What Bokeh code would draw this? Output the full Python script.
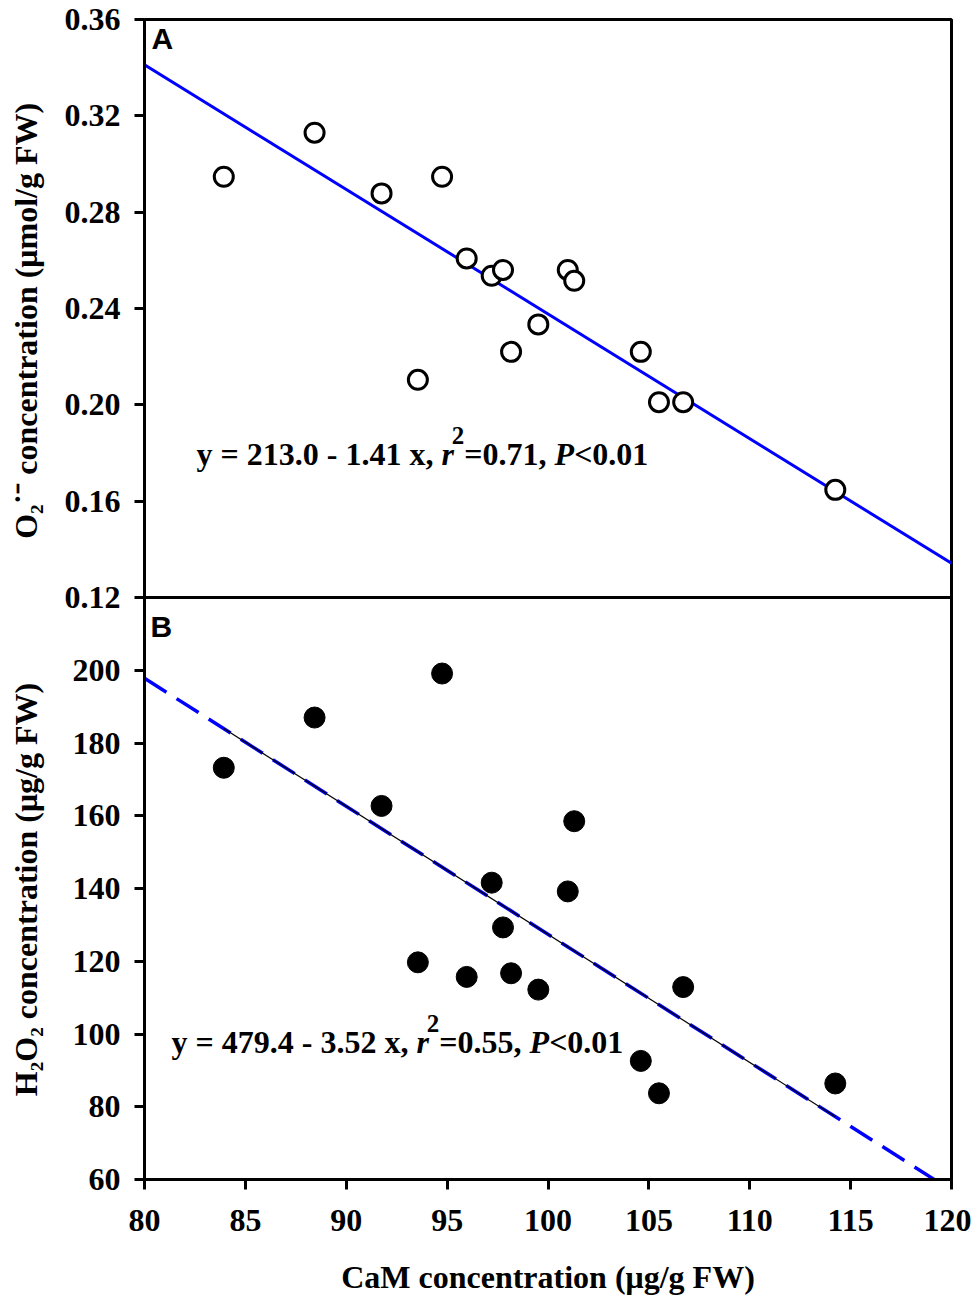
import math
from bokeh.plotting import figure
from bokeh.models import Range1d, FixedTicker, CustomJSTickFormatter, Span, Label
from bokeh.embed import file_html
from bokeh.resources import INLINE

# ---------------- data ----------------
cam = [83.93, 88.43, 91.75, 93.55, 94.75, 95.97, 97.21, 97.77,
       98.17, 99.52, 100.98, 101.30, 104.60, 105.50, 106.70, 114.24]
o2 = [0.2947, 0.3130, 0.2878, 0.2104, 0.2947, 0.2608, 0.2536, 0.2560,
      0.2220, 0.2334, 0.2560, 0.2515, 0.2220, 0.2011, 0.2011, 0.1647]
h2o2 = [173.2, 187.0, 162.7, 119.7, 199.1, 115.7, 141.6, 129.3,
        116.7, 112.2, 139.2, 158.5, 92.6, 83.7, 112.9, 86.4]

x_ticks = [80, 85, 90, 95, 100, 105, 110, 115, 120]
o2_ticks = [0.12, 0.16, 0.20, 0.24, 0.28, 0.32, 0.36]
h2o2_ticks = [60, 80, 100, 120, 140, 160, 180, 200]
h2o2_top = 220

o2_fit = (0.7552, -0.005175)     # intercept, slope of drawn line (panel A)
h2o2_fit = (479.4, -3.52)        # intercept, slope (panel B)

title_x = "CaM concentration (μg/g FW)"
title_a = "O₂˙⁻ concentration (μmol/g FW)"
title_b = "H₂O₂ concentration (μg/g FW)"

eq_a = [("y = 213.0 - 1.41 x, ", "bold", 0), ("r", "bold italic", 0), ("2", "bold", 1),
        ("=0.71, ", "bold", 0), ("P", "bold italic", 0), ("<0.01", "bold", 0)]
eq_b = [("y = 479.4 - 3.52 x, ", "bold", 0), ("r", "bold italic", 0), ("2", "bold", 1),
        ("=0.55, ", "bold", 0), ("P", "bold italic", 0), ("<0.01", "bold", 0)]

# ---------------- layout ----------------
H_TOP = 578
H_BOT = 582
FW = 807
ML, MT = 144, 19
PAGE_OFF = 1
TXT_SHIFT = 10   # rendered baseline sits this much lower than requested

x0, x1 = x_ticks[0], x_ticks[-1]
y0 = h2o2_ticks[0]
y1 = h2o2_top + (h2o2_top - y0) * H_TOP / H_BOT
t1 = o2_ticks[-1]
ts = o2_ticks[0] - (t1 - o2_ticks[0]) * H_BOT / H_TOP

def top_to_primary(t):
    return y0 + (t - ts) / (t1 - ts) * (y1 - y0)

def px_to_x(px):   # page pixel -> data x
    return x0 + (px - (PAGE_OFF + ML)) * (x1 - x0) / FW

def px_to_top(py):
    return t1 - (py - (PAGE_OFF + MT)) * (t1 - ts) / (H_TOP + H_BOT)

def px_to_bot(py):
    return y1 - (py - (PAGE_OFF + MT)) * (y1 - y0) / (H_TOP + H_BOT)

SERIF = "Liberation Serif"
SANS = "Liberation Sans"
FS = 32

p = figure(frame_width=FW, frame_height=H_TOP + H_BOT,
           x_range=Range1d(x0, x1), y_range=Range1d(y0, y1),
           output_backend="svg", toolbar_location=None,
           min_border_left=ML, min_border_top=MT, min_border_right=20,
           min_border_bottom=100)
p.extra_y_ranges = {"top": Range1d(ts, t1)}
p.xgrid.visible = False
p.ygrid.visible = False
p.outline_line_color = "black"
p.outline_line_width = 3
p.outline_line_alpha = 1.0
p.background_fill_color = "white"
p.border_fill_color = "white"

for ax in (p.xaxis[0], p.yaxis[0]):
    ax.axis_line_width = 3
    ax.axis_line_color = "black"
    ax.major_tick_line_width = 3
    ax.major_tick_line_color = "black"
    ax.major_tick_out = 10
    ax.major_tick_in = 0
    ax.minor_tick_line_color = None
    ax.major_label_text_font = SERIF
    ax.major_label_text_font_style = "bold"
    ax.major_label_text_font_size = f"{FS}px"
    ax.major_label_text_color = "black"
    ax.axis_label_text_font = SERIF
    ax.axis_label_text_font_style = "bold"
    ax.axis_label_text_font_size = f"{FS}px"
    ax.axis_label_text_color = "black"

p.xaxis[0].ticker = FixedTicker(ticks=x_ticks)
p.xaxis[0].major_label_standoff = 20
p.xaxis[0].axis_label = title_x
p.xaxis[0].axis_label_standoff = 25

y_all = list(h2o2_ticks) + [top_to_primary(t) for t in o2_ticks]
p.yaxis[0].ticker = FixedTicker(ticks=y_all)
p.yaxis[0].major_label_standoff = 14
p.yaxis[0].formatter = CustomJSTickFormatter(
    args=dict(ts=ts, t1=t1, y0=y0, y1=y1, split=h2o2_top),
    code="""
    if (tick > split - 0.5) {
        const t = ts + (tick - y0) / (y1 - y0) * (t1 - ts);
        return t.toFixed(2);
    }
    return tick.toFixed(0);
    """)
# one rotated title per panel: bottom-panel title, a gap, then top-panel title
gap = "\u2003" * 4 + "\u2002"
p.yaxis[0].axis_label = title_b + gap + title_a
p.yaxis[0].axis_label_standoff = 18

# boundary between the two panels
p.add_layout(Span(location=h2o2_top, dimension="width", line_color="black", line_width=3))

# ---------------- panel A ----------------
fx = [x0, x1]
p.line(fx, [o2_fit[0] + o2_fit[1] * v for v in fx], y_range_name="top",
       line_color="#0000ff", line_width=3)
p.scatter(cam, o2, y_range_name="top", size=19, marker="circle",
          fill_color="white", line_color="black", line_width=3)

# ---------------- panel B ----------------
p.line(fx, [h2o2_fit[0] + h2o2_fit[1] * v for v in fx],
       line_color="#0000ff", line_width=3.5, line_dash="26 12")
dx = [min(cam), max(cam)]
p.line(dx, [h2o2_fit[0] + h2o2_fit[1] * v for v in dx],
       line_color="black", line_width=1.2)
p.scatter(cam, h2o2, size=21, marker="circle", fill_color="black", line_color="black")

# ---------------- panel letters ----------------
p.add_layout(Label(x=px_to_x(152), y=px_to_top(49 - TXT_SHIFT), y_range_name="top",
                   text="A", text_font=SANS, text_font_style="bold",
                   text_font_size="30px", text_color="black", text_baseline="alphabetic"))
p.add_layout(Label(x=px_to_x(151), y=px_to_bot(637 - TXT_SHIFT),
                   text="B", text_font=SANS, text_font_style="bold",
                   text_font_size="30px", text_color="black", text_baseline="alphabetic"))

# ---------------- regression equations ----------------
W_REG = {' ': 0.25, '=': 0.570, '-': 0.333, '.': 0.25, ',': 0.25, 'x': 0.5, 'y': 0.5, '<': 0.570}
W_IT = {'r': 0.389, 'P': 0.611}
SUP = 25

def width(s, style, size):
    tot = 0.0
    for ch in s:
        if style == "bold italic":
            tot += W_IT.get(ch, 0.5)
        else:
            tot += W_REG.get(ch, 0.5)
    return tot * size

def equation(pieces, x, y, range_name):
    off = 0.0
    for txt, style, sup in pieces:
        size = SUP if sup else FS
        shift = -2 if sup else 0
        kw = dict(x=x, y=y, x_offset=off + shift, y_offset=(18 if sup else 0), text=txt,
                  text_font=SERIF, text_font_style=style, text_font_size=f"{size}px",
                  text_color="black", text_align="left", text_baseline="alphabetic")
        if range_name:
            kw["y_range_name"] = range_name
        p.add_layout(Label(**kw))
        off += width(txt, style, size) + shift

equation(eq_a, px_to_x(197), px_to_top(464 - TXT_SHIFT), "top")
equation(eq_b, px_to_x(172), px_to_bot(1052 - TXT_SHIFT), None)

open("out.html", "w").write(file_html(p, INLINE))
